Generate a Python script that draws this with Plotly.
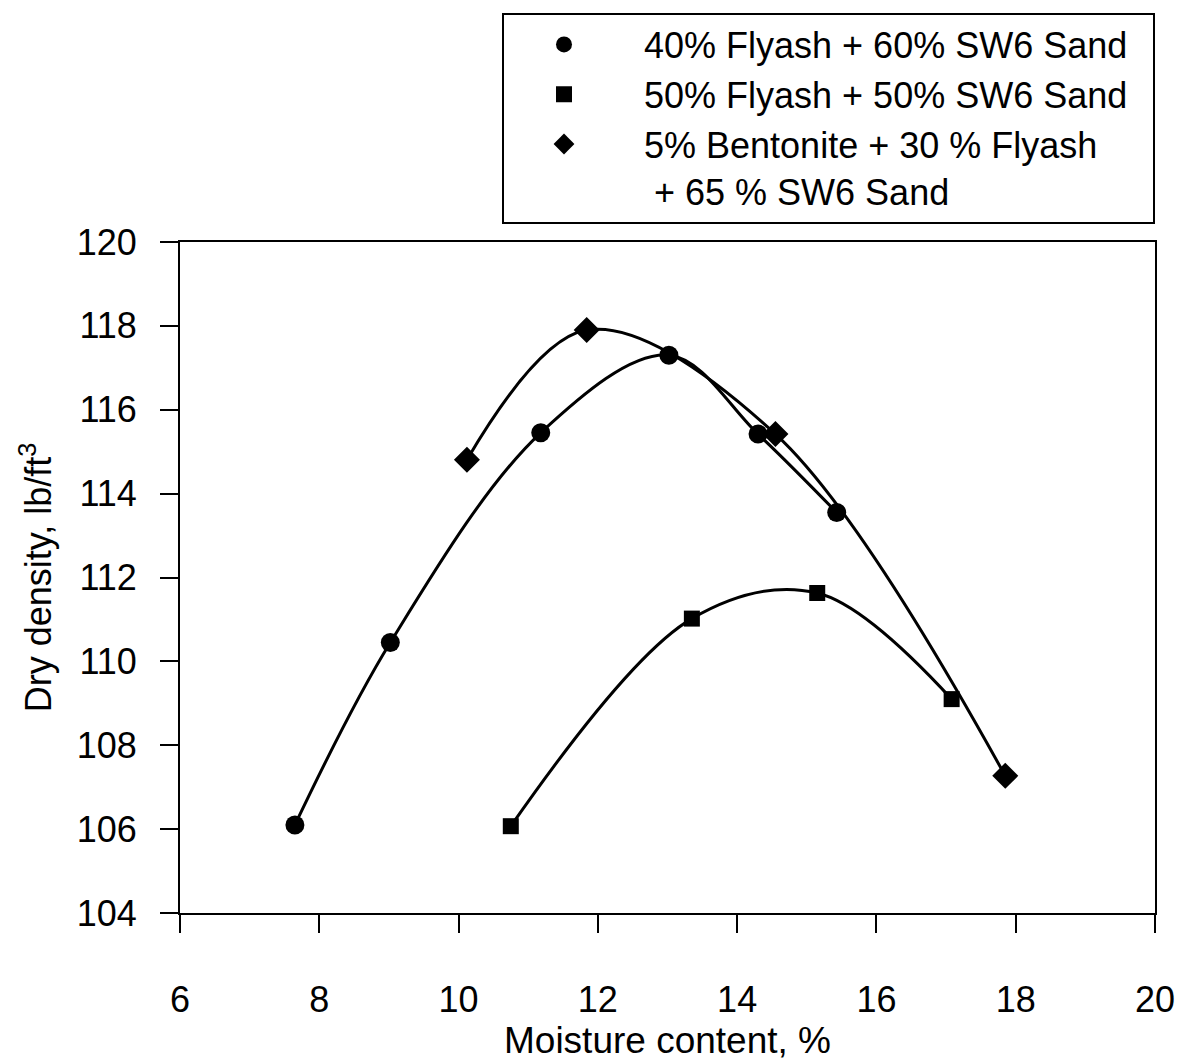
import plotly.graph_objects as go

# Data
circle_name = "40% Flyash + 60% SW6 Sand"
circle_x = [7.65, 9.02, 11.18, 13.02, 14.30, 15.43]
circle_y = [106.1, 110.45, 115.45, 117.3, 115.42, 113.55]

square_name = "50% Flyash + 50% SW6 Sand"
square_x = [10.75, 13.35, 15.15, 17.08]
square_y = [106.07, 111.02, 111.63, 109.1]

diamond_name = "5% Bentonite + 30 % Flyash"
diamond_name_2 = "+ 65 % SW6 Sand"
diamond_x = [10.12, 11.84, 14.55, 17.85]
diamond_y = [114.81, 117.9, 115.42, 107.27]

x_ticks = [6, 8, 10, 12, 14, 16, 18, 20]
y_ticks = [104, 106, 108, 110, 112, 114, 116, 118, 120]

FONT = "Arial, Liberation Sans, sans-serif"
NB = "&nbsp;"


def legend_label(first, second=None):
    s = NB * 2 + first + NB * 2
    if second:
        s += "<br>" + NB * 3 + second
    return s


series = [
    (circle_x, circle_y, legend_label(circle_name), "circle", 19),
    (square_x, square_y, legend_label(square_name), "square", 16),
    (diamond_x, diamond_y, legend_label(diamond_name, diamond_name_2), "diamond", 20),
]

fig = go.Figure()
# smoothed lines (no legend)
for xs, ys, name, sym, size in series:
    fig.add_trace(go.Scatter(x=xs, y=ys, mode="lines", showlegend=False, hoverinfo="skip",
                             line=dict(color="black", width=3, shape="spline", smoothing=1.0)))
# markers (legend entries)
for xs, ys, name, sym, size in series:
    fig.add_trace(go.Scatter(x=xs, y=ys, name=name, mode="markers",
                             marker=dict(symbol=sym, size=size, color="black")))

fig.update_layout(
    width=1181, height=1062,
    margin=dict(l=180, r=26, t=237, b=149),
    paper_bgcolor="white", plot_bgcolor="white",
    font=dict(family=FONT, color="black"),
    legend=dict(x=1, xanchor="right", y=1.342, yanchor="top",
                bordercolor="black", borderwidth=2, bgcolor="white",
                font=dict(size=36, family=FONT, color="black"),
                itemwidth=110, valign="top", tracegroupgap=0),
    xaxis=dict(range=[6, 20], tickvals=x_ticks, ticks="outside", ticklen=18, tickwidth=2,
               tickcolor="black", showline=True, linewidth=2, linecolor="black", mirror=True,
               showgrid=False, zeroline=False, tickfont=dict(size=36),
               ticklabelstandoff=36, automargin=False,
               title=dict(text="Moisture content, %", font=dict(size=37), standoff=8)),
    yaxis=dict(range=[104, 120], tickvals=y_ticks, ticks="outside", ticklen=18, tickwidth=2,
               tickcolor="black", showline=True, linewidth=2, linecolor="black", mirror=True,
               showgrid=False, zeroline=False, tickfont=dict(size=36),
               ticklabelstandoff=16, automargin=False,
               title=dict(text="Dry density, lb/ft<sup>3</sup>", font=dict(size=36), standoff=14)),
)

fig.write_html("out.html")
